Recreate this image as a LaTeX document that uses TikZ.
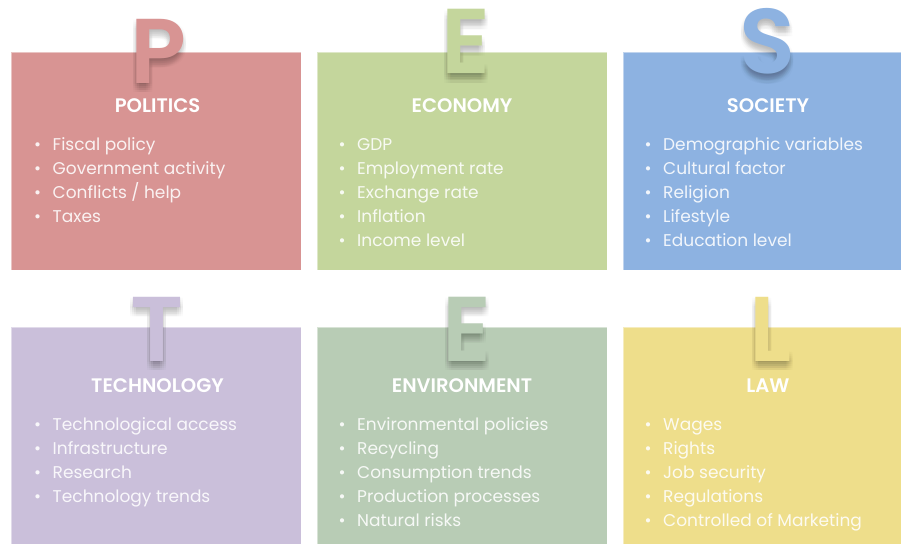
\documentclass[tikz,border=0pt]{standalone}
\usepackage{fontspec}
\setmainfont{Poppins}
\newfontfamily\semibold{Poppins SemiBold}
\usetikzlibrary{positioning,calc}

\definecolor{polcol}{HTML}{D89493}
\definecolor{ecocol}{HTML}{C4D69C}
\definecolor{soccol}{HTML}{8DB2E1}
\definecolor{teccol}{HTML}{CABFDA}
\definecolor{envcol}{HTML}{B8CCB5}
\definecolor{lawcol}{HTML}{EEDE8B}

\tikzset{
  panel/.style={rectangle, minimum width=290pt, minimum height=218pt, inner sep=0pt,
    draw=white, draw opacity=0.45, line width=0.8pt, anchor=north},
  bigchar/.style={anchor=base, inner sep=0pt, font=\semibold\fontsize{92}{92}\selectfont},
  heading/.style={anchor=base, inner sep=0pt, text=white, font=\semibold\fontsize{19.6}{19.6}\selectfont},
  entry/.style={anchor=base west, inner sep=0pt, text=white, text opacity=0.88,
    font=\fontsize{17}{17}\selectfont},
}

% #1 name, #2 colour, #3 centre x, #4 letter, #5 letter base,
% #6 title baseline, #7 title, #8 items
\newcommand{\pestpanel}[8]{%
  % soft shadow under the big letter
  \foreach \dx in {-3,-1,1,3}
    \foreach \dy in {1,3,5,7,9}
      \node[bigchar, text=black, text opacity=0.014] at ($#5+(\dx,\dy)$) {#4};
  \node[bigchar, text=#2] (#1letter) at #5 {#4};
  \node[heading] (#1title) at (#3,#6) {#7};
  \foreach \txt [count=\i] in {#8}
    \node[entry] (#1item\i) at (#3-123.5,#6+14+24*\i) {\makebox[18.5pt][l]{\textbullet}\txt};
}

\begin{document}
\begin{tikzpicture}[x=1pt,y=-1pt]
  \useasboundingbox (0,0) rectangle (901,543);
  % top row
  \node[panel, fill=polcol] (polbox) at (156,52) {};
  \node[panel, fill=ecocol] (ecobox) at (462,52) {};
  \node[panel, fill=soccol] (socbox) at (768,52) {};
  % bottom row
  \node[panel, fill=teccol] (tecbox) at (156,327) {};
  \node[panel, fill=envcol] (envbox) at (462,327) {};
  \node[panel, fill=lawcol] (lawbox) at (768,327) {};

  \pestpanel{pol}{polcol}{157.5}{P}{(158.5,83)}{112.5}{POLITICS}
    {Fiscal policy, Government activity, Conflicts / help, Taxes}
  \pestpanel{eco}{ecocol}{462}{E}{(465.5,74)}{112.5}{ECONOMY}
    {GDP, Employment rate, Exchange rate, Inflation, Income level}
  \pestpanel{soc}{soccol}{768}{S}{(768,74)}{112.5}{SOCIETY}
    {Demographic variables, Cultural factor, Religion, Lifestyle, Education level}
  \pestpanel{tec}{teccol}{157.5}{T}{(157.5,361)}{392}{TECHNOLOGY}
    {Technological access, Infrastructure, Research, Technology trends}
  \pestpanel{env}{envcol}{462}{E}{(467,361)}{392}{ENVIRONMENT}
    {Environmental policies, Recycling, Consumption trends, Production processes, Natural risks}
  \pestpanel{law}{lawcol}{768}{L}{(770.5,361)}{392}{LAW}
    {Wages, Rights, Job security, Regulations, Controlled of Marketing}
\end{tikzpicture}
\end{document}
